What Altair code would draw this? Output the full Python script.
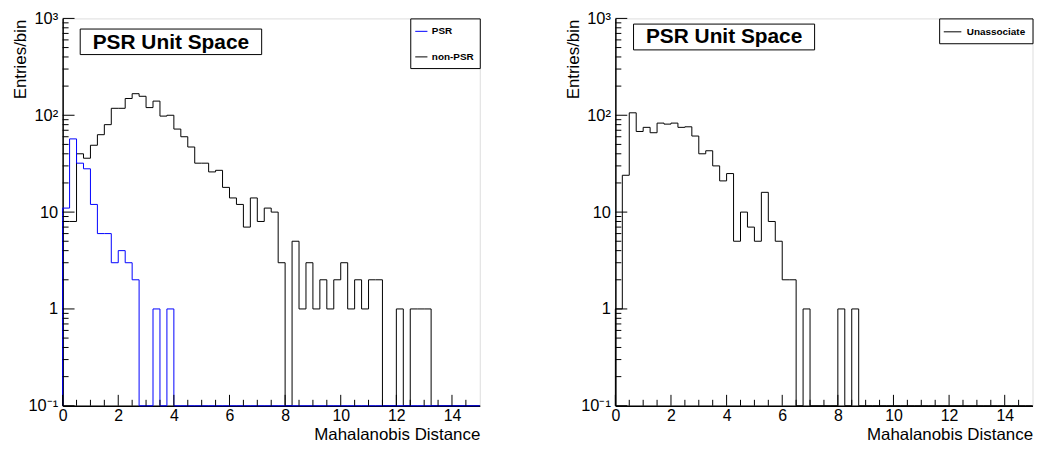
import altair as alt
import pandas as pd

FONT = "Liberation Sans"

# ---- data (counts per 0.25-wide bin, 0 .. 15) ----
bin_width = 0.25
x_min, x_max = 0.0, 15.0
n_bins = 60
bin_edges = [round(k * bin_width, 2) for k in range(n_bins)]

psr_counts = [11, 57, 32, 28, 12, 6, 6, 3, 4, 3,
              2, 0, 0, 1, 0, 1, 0, 0, 0, 0,
              0, 0, 0, 0, 0, 0, 0, 0, 0, 0,
              0, 0, 0, 0, 0, 0, 0, 0, 0, 0,
              0, 0, 0, 0, 0, 0, 0, 0, 0, 0,
              0, 0, 0, 0, 0, 0, 0, 0, 0, 0]

nonpsr_counts = [8, 8, 40, 36, 49, 63, 80, 118, 118, 149,
                 167, 157, 120, 140, 98, 100, 72, 60, 47, 32,
                 32, 26, 27, 18, 14, 12, 7, 14, 8, 11,
                 10, 3, 0, 5, 1, 3, 1, 2, 1, 2,
                 3, 1, 2, 1, 2, 2, 0, 0, 1, 0,
                 1, 1, 1, 0, 0, 0, 0, 0, 0, 0]

unassoc_counts = [1, 24, 106, 68, 75, 66, 83, 81, 83, 75,
                  76, 61, 40, 43, 30, 21, 25, 5, 10, 7,
                  5, 16, 8, 5, 2, 2, 0, 1, 0, 0,
                  0, 0, 1, 0, 1, 0, 0, 0, 0, 0,
                  0, 0, 0, 0, 0, 0, 0, 0, 0, 0,
                  0, 0, 0, 0, 0, 0, 0, 0, 0, 0]

x_major_ticks = [0, 2, 4, 6, 8, 10, 12, 14]
x_minor_ticks = [0.5, 1, 1.5, 2.5, 3, 3.5, 4.5, 5, 5.5, 6.5, 7, 7.5,
                 8.5, 9, 9.5, 10.5, 11, 11.5, 12.5, 13, 13.5, 14.5]
y_major_ticks = [0.1, 1, 10, 100, 1000]
y_minor_ticks = [0.2, 0.3, 0.4, 0.5, 0.6, 0.7, 0.8, 0.9,
                 2, 3, 4, 5, 6, 7, 8, 9,
                 20, 30, 40, 50, 60, 70, 80, 90,
                 200, 300, 400, 500, 600, 700, 800, 900]

y_floor = 0.1
W, H = 420, 390

x_scale = alt.Scale(domain=[x_min, x_max], nice=False, zero=False)
y_scale = alt.Scale(type="log", domain=[0.1, 1000], nice=False)

y_label_expr = ("datum.value >= 999 ? '10\u00b3' : datum.value >= 99 ? '10\u00b2' : "
                "datum.value >= 9 ? '10' : datum.value >= 0.99 ? '1' : '10\u207b\u00b9'")


def step_frame(values, name):
    rows = [{"x": x_min, "y": y_floor, "i": -1, "series": name}]
    for k, v in enumerate(values):
        rows.append({"x": bin_edges[k], "y": max(v, y_floor), "i": k, "series": name})
    rows.append({"x": x_max, "y": max(values[-1], y_floor), "i": len(values), "series": name})
    return pd.DataFrame(rows)


x_axis = alt.Axis(values=x_major_ticks, ticks=False, grid=False, labelFont=FONT,
                  labelFontSize=16, labelColor="black", labelPadding=15,
                  labelBaseline="alphabetic", labelAngle=0, labelFlush=False,
                  labelOverlap=False, domainColor="black", domainWidth=1.5,
                  title="Mahalanobis Distance", titleFont=FONT, titleFontSize=17,
                  titleFontWeight="normal", titleColor="black", titleX=W, titleY=34,
                  titleAlign="right", titleBaseline="alphabetic")

y_axis = alt.Axis(values=y_major_ticks, labelExpr=y_label_expr, ticks=False, grid=False,
                  labelFont=FONT, labelFontSize=16.5, labelColor="black", labelPadding=5,
                  labelBaseline="middle", labelFlush=False, labelOverlap=False,
                  domainColor="black", domainWidth=1.5,
                  title="Entries/bin", titleFont=FONT, titleFontSize=17,
                  titleFontWeight="normal", titleColor="black", titleAngle=270,
                  titleX=-37.5, titleY=0.7, titleAlign="right", titleBaseline="alphabetic")


def tick_layers():
    xmaj = alt.Chart(pd.DataFrame({"x": x_major_ticks})).mark_rule(color="black", strokeWidth=1).encode(
        x=alt.X("x:Q", scale=x_scale, axis=x_axis), y=alt.value(H), y2=alt.value(H - 11))
    xmin = alt.Chart(pd.DataFrame({"x": x_minor_ticks})).mark_rule(color="black", strokeWidth=1).encode(
        x=alt.X("x:Q", scale=x_scale, axis=x_axis), y=alt.value(H), y2=alt.value(H - 6))
    ymaj = alt.Chart(pd.DataFrame({"y": y_major_ticks})).mark_rule(color="black", strokeWidth=1).encode(
        y=alt.Y("y:Q", scale=y_scale, axis=y_axis), x=alt.value(0), x2=alt.value(12))
    ymin = alt.Chart(pd.DataFrame({"y": y_minor_ticks})).mark_rule(color="black", strokeWidth=1).encode(
        y=alt.Y("y:Q", scale=y_scale, axis=y_axis), x=alt.value(0), x2=alt.value(6))
    return [xmaj, xmin, ymaj, ymin]


def title_box(x1, x2, y1, y2, tx, ty):
    d = pd.DataFrame({"t": ["PSR Unit Space"]})
    box = alt.Chart(d).mark_rect(fill="white", stroke="black", strokeWidth=1).encode(
        x=alt.value(x1), x2=alt.value(x2), y=alt.value(y1), y2=alt.value(y2))
    txt = alt.Chart(d).mark_text(font=FONT, fontSize=21, fontWeight="bold", color="black",
                                 align="center", baseline="alphabetic").encode(
        x=alt.value(tx), y=alt.value(ty), text="t:N")
    return [box, txt]


def hist_layer(df, domain, rng, legend):
    return alt.Chart(df).mark_line(interpolate="step-after", strokeWidth=1).encode(
        x=alt.X("x:Q", scale=x_scale, axis=x_axis),
        y=alt.Y("y:Q", scale=y_scale, axis=y_axis),
        color=alt.Color("series:N", scale=alt.Scale(domain=domain, range=rng), legend=legend),
        order=alt.Order("i:Q"),
    )


left_legend = alt.Legend(orient="top-right", offset=0, title=None, symbolType="M-1.3,0H0.7",
                         symbolSize=150, symbolStrokeWidth=1, labelFont=FONT, labelFontSize=10,
                         labelFontWeight="bold", labelColor="black", padding=6, rowPadding=13.75,
                         strokeColor="black", fillColor="white", labelOffset=1.75,
                         labelExpr="datum.label + '   '")
right_legend = alt.Legend(orient="top-right", offset=0, title=None, symbolType="M-1.4,0H1.4",
                          symbolSize=160, symbolStrokeWidth=1, labelFont=FONT, labelFontSize=10,
                          labelFontWeight="bold", labelColor="black", padding=6.5,
                          strokeColor="black", fillColor="white", labelOffset=7.25,
                          labelExpr="datum.label + '     '")

left_dom = ["PSR", "non-PSR"]
left_rng = ["#0000ff", "#000000"]

left = alt.layer(
    hist_layer(step_frame(nonpsr_counts, "non-PSR"), left_dom, left_rng, left_legend),
    hist_layer(step_frame(psr_counts, "PSR"), left_dom, left_rng, left_legend),
    *tick_layers(),
    *title_box(17.7, 200.4, 10.7, 36.4, 109, 30.7),
).properties(width=W, height=H)

right = alt.layer(
    hist_layer(step_frame(unassoc_counts, "Unassociate"), ["Unassociate"], ["#000000"], right_legend),
    *tick_layers(),
    *title_box(18.3, 200.6, 5.7, 31.7, 109.5, 25),
).properties(width=W, height=H)

chart = (
    alt.hconcat(left, right, spacing=81.5)
    .resolve_scale(color="independent")
    .resolve_legend(color="independent")
    .properties(padding={"left": 3, "top": 0, "right": 0, "bottom": 0}, background="white")
    .configure_view(stroke="#333333", strokeWidth=1)
    .configure(font=FONT)
)

chart.save("out.html", embed_options={"renderer": "svg", "actions": False})
